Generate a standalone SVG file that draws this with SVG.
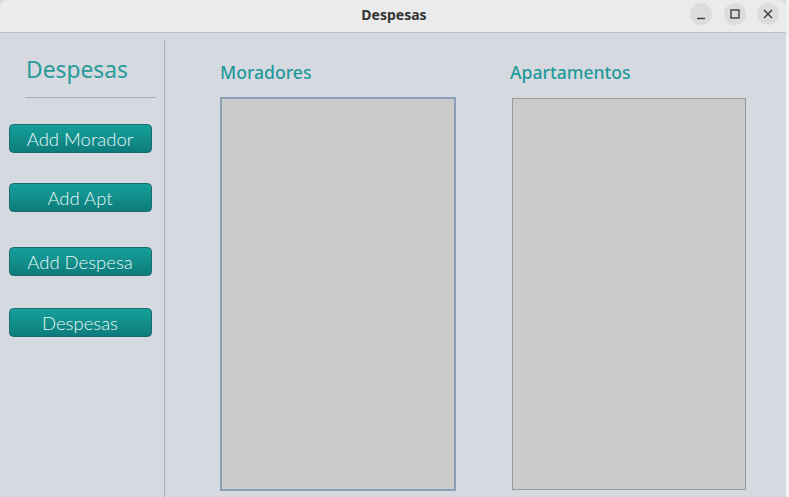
<svg xmlns="http://www.w3.org/2000/svg" width="789" height="497" viewBox="0 0 789 497">
<defs>
<linearGradient id="btn" x1="0" y1="0" x2="0" y2="1">
<stop offset="0" stop-color="#17a09c"/>
<stop offset="0.5" stop-color="#128f8c"/>
<stop offset="1" stop-color="#0c7b7a"/>
</linearGradient>
</defs>
<style>
.btn rect{fill:url(#btn);stroke:#1b6a6c;stroke-width:1}
.btn text{fill:#e9f7f6;font-family:Lato,"Noto Sans",sans-serif;font-size:18.5px;font-weight:300;text-anchor:middle}
.hdr{fill:#1f9a9a;font-family:"Noto Sans",sans-serif;font-size:17.6px;font-weight:500}
.list{fill:#cbcbcb}
.ctl{fill:#dcdcdc}
.ico{stroke:#333;stroke-width:1.3;fill:none}
</style>
<rect x="0" y="0" width="789" height="497" fill="#d6d9e0"/>
<rect x="786" y="0" width="3" height="497" fill="#f2f2f2"/>
<g id="titlebar">
<path d="M0 32 V8 Q0 0 8 0 H778 Q786 0 786 8 V32 Z" fill="#ebebeb"/>
<line x1="0" y1="32.5" x2="786" y2="32.5" stroke="#bfc3c9" stroke-width="1"/>
<text x="394" y="20" text-anchor="middle" font-family="'Noto Sans',sans-serif" font-size="14" font-weight="bold" fill="#333">Despesas</text>
<circle class="ctl" cx="701" cy="14" r="11"/>
<line class="ico" x1="697" y1="18.5" x2="705" y2="18.5"/>
<circle class="ctl" cx="735" cy="14" r="11"/>
<rect class="ico" x="731" y="10" width="8" height="8"/>
<circle class="ctl" cx="768" cy="14" r="11"/>
<path class="ico" d="M764 10 L772 18 M772 10 L764 18"/>
</g>
<g id="sidebar">
<text x="26" y="78" font-family="'Noto Sans',sans-serif" font-size="22.8" fill="#2a9b9b">Despesas</text>
<line x1="25" y1="97.5" x2="156" y2="97.5" stroke="#a9adb4" stroke-width="1"/>
<line x1="164.5" y1="40" x2="164.5" y2="497" stroke="#a9adb4" stroke-width="1"/>
</g>
<g id="btn-add-morador" class="btn"><rect x="9.5" y="124.5" width="142" height="28" rx="4"/><text x="80" y="145.5">Add Morador</text></g>
<g id="btn-add-apt" class="btn"><rect x="9.5" y="183.5" width="142" height="28" rx="4"/><text x="80" y="204.5">Add Apt</text></g>
<g id="btn-add-despesa" class="btn"><rect x="9.5" y="247.5" width="142" height="28" rx="4"/><text x="80" y="268.5">Add Despesa</text></g>
<g id="btn-despesas" class="btn"><rect x="9.5" y="308.5" width="142" height="28" rx="4"/><text x="80" y="329.5">Despesas</text></g>
<g id="moradores">
<text class="hdr" x="220" y="79">Moradores</text>
<rect class="list" x="221" y="98" width="234" height="392" stroke="#8ba0b6" stroke-width="2"/>
</g>
<g id="apartamentos">
<text class="hdr" x="510" y="79">Apartamentos</text>
<rect class="list" x="512.5" y="98.5" width="233" height="391" stroke="#9a9a9a" stroke-width="1"/>
</g>
<g id="connectors"></g>
</svg>
